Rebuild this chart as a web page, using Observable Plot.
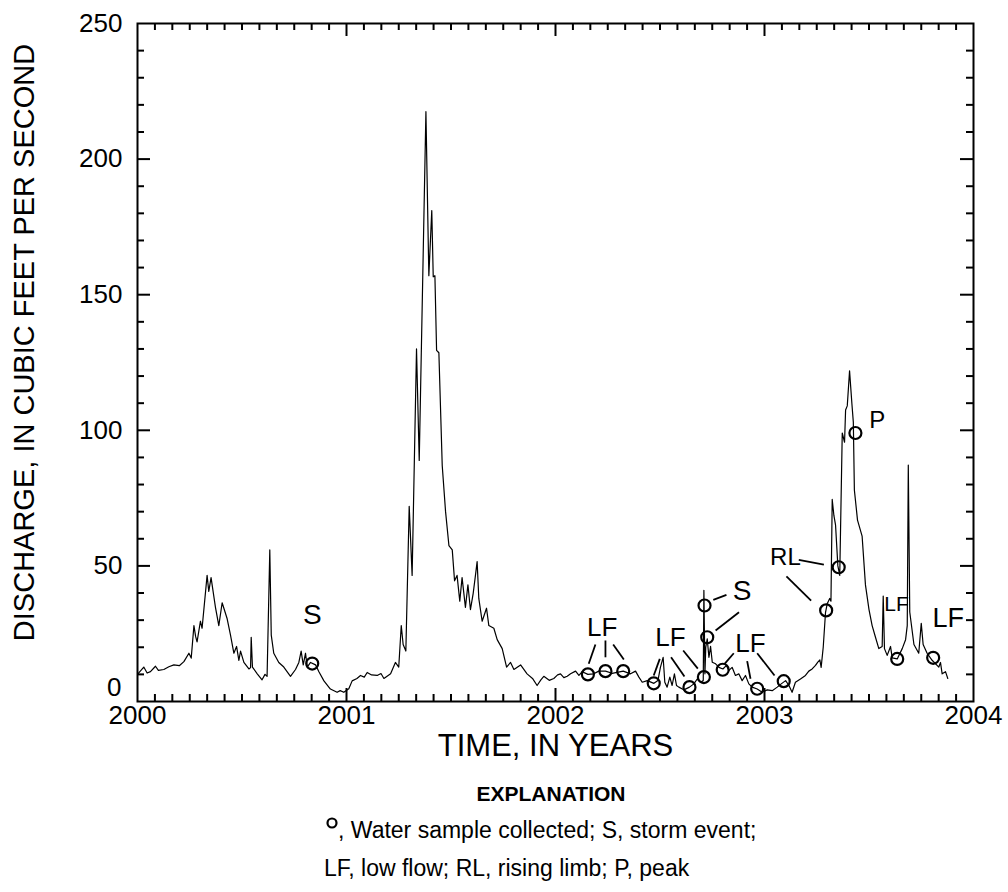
<!DOCTYPE html>
<html><head><meta charset="utf-8">
<script src="https://cdn.jsdelivr.net/npm/d3@7"></script>
<script src="https://cdn.jsdelivr.net/npm/@observablehq/plot@0.6"></script>
<style>
body{margin:0;background:#fff;font-family:"Liberation Sans",Arial,sans-serif;}
#chart svg{display:block}
</style>
</head><body><div id="chart"></div><script>
// ---- data ----
const years = [2000.002,2000.030,2000.046,2000.062,2000.086,2000.100,2000.126,2000.150,2000.174,2000.200,2000.222,2000.246,2000.257,2000.270,2000.278,2000.285,2000.301,2000.309,2000.333,2000.341,2000.352,2000.373,2000.389,2000.405,2000.429,2000.445,2000.461,2000.474,2000.485,2000.493,2000.509,2000.533,2000.541,2000.544,2000.550,2000.573,2000.596,2000.610,2000.620,2000.633,2000.640,2000.652,2000.676,2000.700,2000.732,2000.756,2000.772,2000.783,2000.793,2000.804,2000.812,2000.828,2000.852,2000.868,2000.892,2000.923,2000.955,2000.970,2000.987,2001.011,2001.027,2001.050,2001.067,2001.085,2001.099,2001.120,2001.147,2001.165,2001.179,2001.211,2001.234,2001.250,2001.262,2001.271,2001.284,2001.300,2001.314,2001.335,2001.348,2001.380,2001.394,2001.408,2001.415,2001.423,2001.431,2001.442,2001.458,2001.474,2001.490,2001.506,2001.517,2001.529,2001.542,2001.553,2001.569,2001.581,2001.593,2001.606,2001.617,2001.625,2001.633,2001.649,2001.670,2001.681,2001.705,2001.721,2001.745,2001.766,2001.785,2001.801,2001.833,2001.864,2001.890,2001.912,2001.930,2001.944,2001.970,2001.992,2002.010,2002.024,2002.040,2002.056,2002.072,2002.096,2002.112,2002.128,2002.155,2002.183,2002.207,2002.239,2002.271,2002.324,2002.359,2002.383,2002.399,2002.415,2002.439,2002.471,2002.490,2002.502,2002.515,2002.523,2002.534,2002.547,2002.558,2002.569,2002.579,2002.590,2002.614,2002.641,2002.662,2002.678,2002.694,2002.707,2002.710,2002.715,2002.719,2002.726,2002.734,2002.742,2002.750,2002.766,2002.782,2002.801,2002.818,2002.829,2002.845,2002.861,2002.877,2002.893,2002.909,2002.925,2002.941,2002.965,2002.989,2003.013,2003.037,2003.061,2003.080,2003.101,2003.117,2003.132,2003.148,2003.172,2003.196,2003.212,2003.228,2003.244,2003.255,2003.265,2003.271,2003.281,2003.292,2003.300,2003.312,2003.318,2003.324,2003.332,2003.340,2003.351,2003.360,2003.372,2003.383,2003.388,2003.396,2003.407,2003.418,2003.425,2003.430,2003.445,2003.467,2003.483,2003.500,2003.515,2003.531,2003.547,2003.563,2003.568,2003.574,2003.587,2003.603,2003.611,2003.635,2003.659,2003.675,2003.683,2003.688,2003.695,2003.715,2003.738,2003.750,2003.759,2003.778,2003.802,2003.834,2003.842,2003.850,2003.866,2003.877];
const discharge = [10.2,12.7,10.5,11,13,11.5,11.8,12.8,13.5,13.2,14.7,17.8,16,28,24,22,29.6,27,46.5,40.6,45.7,34.7,28,36.4,30.5,24.5,17.8,20.3,15.2,18.6,14.4,12,12.5,23.7,12.7,10.2,8,10,9.3,55.9,24.5,17.8,14.4,12.7,9.3,11.8,14.4,18.6,13.5,17.8,12.7,14.4,13.5,11,7.6,4.6,3.4,4,3.4,4.7,7.6,8.5,9.6,9,10.7,9.8,9.6,10.3,8.5,10.2,14.4,12.7,28,21,18.6,72,46.5,130,88.9,217.5,157,181,156.6,157,129.5,128.6,87,70,57.5,55.9,44.5,46.5,37,45.7,34.7,43,33.9,39.8,46.5,51.6,38,29.6,34.4,28,27,22.8,19.5,12.7,14.4,11.8,13.5,10.2,8.5,5.9,8,9.3,7.8,8.5,9.8,10.2,8.8,9.3,10.2,11.2,9.6,11,10,10.2,11.2,11.2,10.4,11.2,10.2,11.2,9,7.1,7.7,6.7,7.7,12.6,16.3,7.1,5.3,9,5.9,10.2,5.9,5.3,4.3,5.3,6.5,8.3,7.1,7.7,41,10.2,20,23.1,16.3,20.3,14.5,13.9,12.6,12,13.3,11.4,12.6,9.6,10.2,7.7,9.6,6.5,5.3,4.6,3.4,4.3,4,5.3,6.5,7.7,5.9,3.4,7.1,8.3,9.6,11.2,12,13.3,14.5,15.3,12.6,20,32.9,36,38,37,74.5,68.6,65,50,46.5,99,95.6,107.5,109,121.9,110,103,78,66.9,61,43,33.9,28,23.7,19.5,20.3,38.9,19.5,17,20.3,16.1,15.7,19.5,22.8,28,87.2,33,21,17.8,28.8,21,17.8,15.2,12.7,14.4,10.2,11,8.5];

const sampleYears  = [2000.836,2002.155,2002.239,2002.324,2002.470,2002.641,2002.710,2002.713,2002.726,2002.800,2002.965,2003.092,2003.295,2003.355,2003.435,2003.635,2003.807];
const sampleValues = [14,10,11.2,11.2,6.7,5.3,9,35.4,23.7,11.7,4.7,7.5,33.6,49.5,99,15.7,16.1];

const labelTexts  = ["S","LF","LF","S","LF","RL","P","LF","LF"];
const labelYears  = [2000.836,2002.223,2002.550,2002.893,2002.933,2003.100,2003.539,2003.632,2003.879];
const labelValues = [31.7,27.4,23.7,40.9,21.5,53,103.6,35.8,30.5];

const leaderX1 = [2002.191,2002.239,2002.276,2002.499,2002.553,2002.611,2002.755,2002.766,2002.853,2002.917,2002.965,2003.164,2003.105];
const leaderY1 = [21.0,22.5,21.0,15.7,16.3,18.8,37.5,26.2,17.8,14.9,17.8,52.2,46.1];
const leaderX2 = [2002.159,2002.239,2002.327,2002.470,2002.617,2002.681,2002.818,2002.878,2002.809,2002.933,2003.048,2003.284,2003.223];
const leaderY2 = [13.9,16.3,15.5,9.6,9.2,12.1,39.3,32.9,13.9,8.4,9.6,50.5,37.2];

const yearTicks = [2000,2001,2002,2003,2004];
const valueTicks = [0,50,100,150,200,250];
const xTitle = "TIME, IN YEARS";
const yTitle = "DISCHARGE, IN CUBIC FEET PER SECOND";
const legendHead = "EXPLANATION";
const legendLine1 = ", Water sample collected; S, storm event;";
const legendLine2 = "LF, low flow; RL, rising limb; P, peak";

// ---- build tables ----
const series = years.map((x, i) => ({x, y: discharge[i]}));
const samples = sampleYears.map((x, i) => ({x, y: sampleValues[i]}));
const labels = labelTexts.map((t, i) => ({t, x: labelYears[i], y: labelValues[i]}));
const leaders = leaderX1.map((x1, i) => ({x1, y1: leaderY1[i], x2: leaderX2[i], y2: leaderY2[i]}));
const labelSize = {0: 28, 1: 26, 2: 26, 3: 28, 4: 26, 5: 24, 6: 24, 7: 21, 8: 27};
labels.forEach((d, i) => d.size = labelSize[i]);

const monthTicks = d3.range(0, 49).map(i => 2000 + i / 12);
const minorX = monthTicks.filter((d, i) => i % 12 !== 0);
const minorY = d3.range(0, 251, 10).filter(v => v % 50 !== 0);
const majorY = valueTicks.slice(1, -1);
const majorX = yearTicks.slice(1, -1);

const W = 1008, H = 775, mt = 23, mb = 74, ml = 137, mr = 35;
const innerW = W - ml - mr, innerH = H - mt - mb;
const minorLen = 7, majorLen = 13;

const chart = Plot.plot({
  width: W, height: H,
  marginTop: mt, marginBottom: mb, marginLeft: ml, marginRight: mr,
  style: {fontFamily: "'Liberation Sans', Arial, sans-serif", color: "black", background: "white", overflow: "visible"},
  x: {domain: [2000, 2004]},
  y: {domain: [0, 250]},
  marks: [
    // inward ticks on all sides
    Plot.tickX(minorX, {x: d => d, insetTop: innerH - minorLen, strokeWidth: 2}),
    Plot.tickX(minorX, {x: d => d, insetBottom: innerH - minorLen, strokeWidth: 2}),
    Plot.tickX(majorX, {x: d => d, insetTop: innerH - majorLen, strokeWidth: 2}),
    Plot.tickX(majorX, {x: d => d, insetBottom: innerH - majorLen, strokeWidth: 2}),
    Plot.tickY(minorY, {y: d => d, insetRight: innerW - minorLen, strokeWidth: 2}),
    Plot.tickY(minorY, {y: d => d, insetLeft: innerW - minorLen, strokeWidth: 2}),
    Plot.tickY(majorY, {y: d => d, insetRight: innerW - majorLen, strokeWidth: 2}),
    Plot.tickY(majorY, {y: d => d, insetLeft: innerW - majorLen, strokeWidth: 2}),
    Plot.axisX(yearTicks, {tickSize: 0, tickPadding: 4, fontSize: 26, tickFormat: d => String(d), label: null}),
    Plot.axisY(valueTicks.slice(1), {tickSize: 0, tickPadding: 15, fontSize: 26, tickFormat: d => String(d), label: null}),
    Plot.axisY([valueTicks[0]], {tickSize: 0, tickPadding: 16, fontSize: 26, dy: -14, tickFormat: d => String(d), label: null}),
    Plot.text([xTitle], {frameAnchor: "bottom", lineAnchor: "middle", dy: 45, fontSize: 31, text: d => d}),
    Plot.text([yTitle], {frameAnchor: "left", textAnchor: "middle", lineAnchor: "middle", dx: -113, dy: -20, rotate: -90, fontSize: 29, text: d => d}),
    Plot.line(series, {x: "x", y: "y", stroke: "black", strokeWidth: 1.2}),
    Plot.link(leaders, {x1: "x1", y1: "y1", x2: "x2", y2: "y2", stroke: "black", strokeWidth: 1.8}),
    Plot.dot(samples, {x: "x", y: "y", r: 6, stroke: "black", strokeWidth: 2.2, fill: "none"}),
    Plot.text(labels, {x: "x", y: "y", text: "t", fontSize: "size", fill: "black"}),
    Plot.frame({stroke: "black", strokeWidth: 2})
  ]
});
document.getElementById("chart").appendChild(chart);

// ---- legend below the plot ----
const leg = d3.select("#chart").append("svg")
  .attr("width", W).attr("height", 892 - H)
  .style("font-family", "'Liberation Sans', Arial, sans-serif");
leg.append("text").attr("x", 551).attr("y", 19).attr("dy", "0.35em")
  .attr("text-anchor", "middle").attr("font-weight", "bold").attr("font-size", 21).text(legendHead);
leg.append("circle").attr("cx", 332).attr("cy", 48).attr("r", 4.5)
  .attr("fill", "none").attr("stroke", "black").attr("stroke-width", 2.2);
leg.append("text").attr("x", 338).attr("y", 55).attr("dy", "0.35em")
  .attr("font-size", 23).text(legendLine1);
leg.append("text").attr("x", 324).attr("y", 93).attr("dy", "0.35em")
  .attr("font-size", 23).text(legendLine2);
</script></body></html>
